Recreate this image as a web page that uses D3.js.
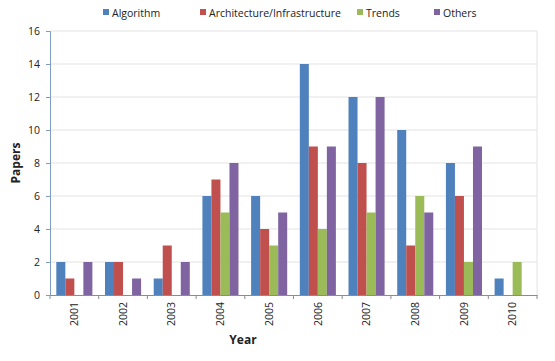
<!DOCTYPE html>
<html lang="en">
<head>
  <meta charset="UTF-8">
  <title>Papers per year</title>
  <style>
    body { margin: 0; background: #fff; }
    text { font-family: "Open Sans", sans-serif; fill: #222; }
    .tick text { font-size: 10.5px; }
    .axis-title { font-size: 12px; font-weight: bold; }
    .legend text { font-size: 10.5px; }
  </style>
</head>
<body>
  <svg width="555" height="361"></svg>
  <script src="https://cdn.jsdelivr.net/npm/d3@7"></script>
  <script>
    var years = ['2001', '2002', '2003', '2004', '2005', '2006', '2007', '2008', '2009', '2010']
    var seriesNames = ['Algorithm', 'Architecture/Infrastructure', 'Trends', 'Others']
    var algorithm = [2, 2, 1, 6, 6, 14, 12, 10, 8, 1]
    var architecture = [1, 2, 3, 7, 4, 9, 8, 3, 6, 0]
    var trends = [0, 0, 0, 5, 3, 4, 5, 6, 2, 2]
    var others = [2, 1, 2, 8, 5, 9, 12, 5, 9, 0]
    var yTicks = [0, 2, 4, 6, 8, 10, 12, 14, 16]
    var colors = ['#4f81bd', '#c0504d', '#9bbb59', '#8064a2']

    var series = [algorithm, architecture, trends, others]

    var svg = d3.select('svg')
    var margin = { top: 31, right: 18, bottom: 66, left: 50 }
    var width = 555 - margin.left - margin.right
    var height = 361 - margin.top - margin.bottom

    var g = svg.append('g')
      .attr('transform', 'translate(' + margin.left + ',' + margin.top + ')')

    var x = d3.scaleBand().domain(years).range([0, width]).paddingInner(0).paddingOuter(0)
    var x1 = d3.scaleBand().domain(d3.range(4)).range([0, x.bandwidth()]).paddingOuter(0.7).paddingInner(0)
    var y = d3.scaleLinear().domain([0, 16]).range([height, 0])

    // gridlines
    g.append('g')
      .selectAll('line')
      .data(yTicks.slice(1))
      .enter()
      .append('line')
      .attr('x1', 0)
      .attr('x2', width)
      .attr('y1', function(d) { return y(d) })
      .attr('y2', function(d) { return y(d) })
      .attr('stroke', '#e3e3e3')

    g.append('line')
      .attr('x1', width).attr('x2', width)
      .attr('y1', 0).attr('y2', height)
      .attr('stroke', '#e3e3e3')

    // bars
    var groups = g.selectAll('.year')
      .data(years)
      .enter()
      .append('g')
      .attr('class', 'year')
      .attr('transform', function(d) { return 'translate(' + x(d) + ',0)' })

    groups.selectAll('rect')
      .data(function(d, i) { return series.map(function(s, k) { return { k: k, v: s[i] } }) })
      .enter()
      .append('rect')
      .attr('x', function(d) { return x1(d.k) })
      .attr('width', x1.bandwidth())
      .attr('y', function(d) { return y(d.v) })
      .attr('height', function(d) { return height - y(d.v) })
      .attr('fill', function(d) { return colors[d.k] })

    // y axis
    var yAxis = g.append('g')
      .call(d3.axisLeft(y).tickValues(yTicks).tickSize(4).tickPadding(6))
    yAxis.selectAll('path, line').attr('stroke', '#7f9cc2')

    // x axis
    var xAxis = g.append('g')
      .attr('transform', 'translate(0,' + height + ')')
      .call(d3.axisBottom(x).tickSize(0).tickPadding(0))
    xAxis.select('.domain').attr('stroke', '#8c8c8c')
    xAxis.selectAll('.tick text')
      .attr('transform', 'rotate(-90)')
      .attr('text-anchor', 'end')
      .attr('x', -7)
      .attr('y', 0)
      .attr('dy', '0.35em')

    g.append('g')
      .selectAll('line')
      .data(years.concat(['end']))
      .enter()
      .append('line')
      .attr('x1', function(d) { return d === 'end' ? width : x(d) })
      .attr('x2', function(d) { return d === 'end' ? width : x(d) })
      .attr('y1', height)
      .attr('y2', height + 4)
      .attr('stroke', '#8c8c8c')

    // axis titles
    svg.append('text')
      .attr('class', 'axis-title')
      .attr('transform', 'translate(20,' + (margin.top + height / 2) + ') rotate(-90)')
      .attr('text-anchor', 'middle')
      .text('Papers')

    svg.append('text')
      .attr('class', 'axis-title')
      .attr('x', 243)
      .attr('y', 344)
      .attr('text-anchor', 'middle')
      .text('Year')

    // legend
    var legendX = [103, 200, 357, 434]
    var legend = svg.append('g').attr('class', 'legend')
      .selectAll('g')
      .data(seriesNames)
      .enter()
      .append('g')
      .attr('transform', function(d, i) { return 'translate(' + legendX[i] + ',13)' })
    legend.append('rect')
      .attr('x', 0).attr('y', -4)
      .attr('width', 6).attr('height', 6)
      .attr('fill', function(d, i) { return colors[i] })
    legend.append('text')
      .attr('x', 9)
      .attr('y', 0)
      .attr('dy', '0.35em')
      .text(function(d) { return d })
  </script>
</body>
</html>
